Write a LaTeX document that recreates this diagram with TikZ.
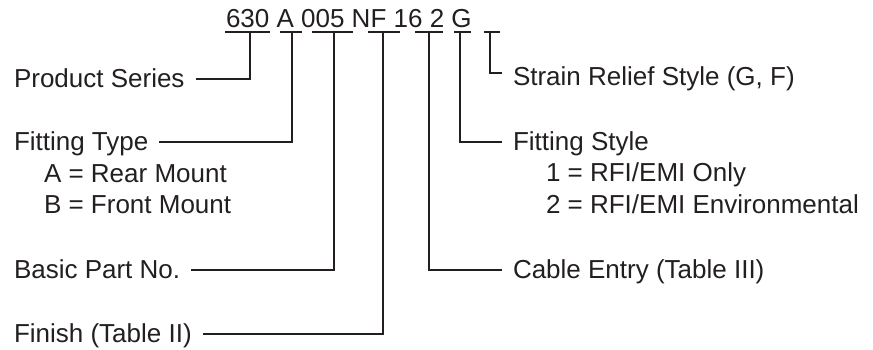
\documentclass[tikz,border=0pt]{standalone}
\usepackage{fontspec}
\setmainfont{Liberation Sans}
\usepackage{xcolor}
\definecolor{ink}{HTML}{231F20}

\begin{document}
\begin{tikzpicture}[x=0.5pt, y=-0.5pt, line width=1pt, color=ink,
  every node/.style={anchor=base west, inner xsep=5pt, inner ysep=0pt,
    text height=10pt, text depth=2pt, font=\fontsize{13}{15.75}\selectfont}]
  \useasboundingbox (0,0) rectangle (873,349);

  \node (code) at (215,27) {630 A 005 NF 16 2 G};
  \foreach \a/\b in {225/270, 280/302, 312/353, 368/400, 415/443, 454/471, 484/500}
    \draw (\a,32) -- (\b,32);
  \coordinate (t630) at (250,32);
  \coordinate (tA) at (292,32);
  \coordinate (t005) at (334,32);
  \coordinate (tNF) at (383,32);
  \coordinate (t16) at (429,32);
  \coordinate (t2) at (460,32);
  \coordinate (tG) at (490,32);

  \node (series) at (3,87) {Product Series};
  \node (type) at (3,150) {Fitting Type};
  \node (typea) at (33,182) {A = Rear Mount};
  \node (typeb) at (33,213) {B = Front Mount};
  \node (partno) at (3,278) {Basic Part No.};
  \node (finish) at (3,342) {Finish (Table II)};

  \node (relief) at (502,85) {Strain Relief Style (G, F)};
  \node (style) at (502,150) {Fitting Style};
  \node (style1) at (535,181) {1 = RFI/EMI Only};
  \node (style2) at (535,213) {2 = RFI/EMI Environmental};
  \node (entry) at (502,278) {Cable Entry (Table III)};

  \draw (series.east) -| (t630);
  \draw (type.east) -| (tA);
  \draw (partno.east) -| (t005);
  \draw (finish.east) -| (tNF);
  \draw (t16) |- (entry.west);
  \draw (t2) |- (style.west);
  \draw (tG) |- ([yshift=2pt]relief.west);
\end{tikzpicture}
\end{document}
